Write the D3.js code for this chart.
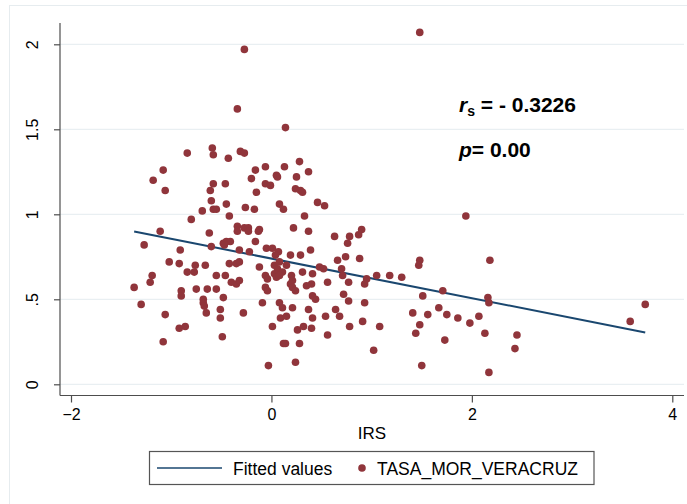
<!DOCTYPE html>
<html>
<head>
<meta charset="utf-8">
<script src="https://cdn.jsdelivr.net/npm/d3@7"></script>
<style>
  html, body { margin: 0; padding: 0; background: #ffffff; }
  svg { display: block; font-family: "Liberation Sans", Arial, sans-serif; }
</style>
</head>
<body>
<svg id="chart" width="687" height="504"></svg>
<script>
// Social-backwardness index (IRS) per municipality
const irs = [
  1.48, -0.27, -0.34, 0.14, -0.84, -0.59, -0.58, -0.43, -0.31, -0.27,
  -1.08, -0.06, 0.13, 0.28, 0.37, -0.16, -0.20, 0.05, 0.06, 0.25,
  -1.18, -0.46, -0.58, -0.61, -0.06, -0.01, -1.06, -0.15, 0.24, 0.29,
  0.31, -0.60, -0.45, 0.46, 0.53, 0.08, 0.12, -0.69, -0.58, -0.55,
  -0.26, -0.17, -0.42, -0.80, 0.33, 0.22, -0.34, -0.27, -0.23, -0.34,
  -0.23, -0.12, -0.13, -0.62, 0.37, -1.11, -0.16, -0.48, -0.45, -0.41,
  -0.47, 0.63, 0.78, 0.76, 0.87, 0.90, -1.27, -0.60, -0.91, -0.32,
  -0.22, -0.05, 0.01, 0.07, 0.04, 0.19, 0.29, 0.39, 0.74, 0.88,
  -1.02, -0.92, -0.76, -0.66, -0.42, -0.35, -0.32, -0.12, 0.03, 0.08,
  0.15, 0.06, 0.11, 0.03, 0.05, 0.08, 0.66, 0.48, 0.52, 0.70,
  1.48, 1.47, 2.18, -0.84, -0.77, -0.55, -0.46, -1.19, -1.21, -0.06,
  -0.04, 0.20, 0.21, 0.31, 0.41, 0.71, 1.05, 1.18, 1.30, 0.95,
  0.93, -0.40, -0.35, -0.32, -0.06, -0.04, 0.19, 0.21, 0.24, 0.35,
  0.40, 0.56, 0.77, -1.37, -0.90, -0.75, -0.55, -0.64, -0.90, -0.48,
  -0.68, 0.41, 0.44, 0.72, 1.51, 1.71, 2.16, 2.17, -1.30, -0.68,
  -0.67, -0.09, 0.08, 0.11, 0.21, 0.77, 0.93, -0.51, -0.65, -1.06,
  -0.28, 0.37, 0.64, 1.67, 1.41, 1.56, 1.75, -0.51, 0.09, 0.15,
  0.41, 0.54, 0.68, 1.86, 2.07, 1.98, 0.91, 0.01, 0.26, 0.32,
  0.40, 0.78, 1.08, -0.92, -0.86, 1.48, 1.44, 0.56, 2.13, 2.45,
  -0.49, 1.73, -1.08, 0.12, 0.14, 0.28, 1.02, 2.43, -0.03, 0.24,
  1.50, 2.17, 3.58, 3.73, 1.94
];

// Mortality rate (TASA_MOR_VERACRUZ), same order as irs
const tasa = [
  2.07, 1.97, 1.62, 1.51, 1.36, 1.39, 1.35, 1.33, 1.37, 1.36,
  1.26, 1.28, 1.28, 1.31, 1.25, 1.26, 1.21, 1.23, 1.22, 1.22,
  1.20, 1.18, 1.18, 1.14, 1.18, 1.17, 1.14, 1.13, 1.15, 1.14,
  1.13, 1.08, 1.06, 1.07, 1.05, 1.06, 1.03, 1.02, 1.03, 1.03,
  1.04, 1.03, 0.99, 0.97, 0.99, 0.92, 0.93, 0.92, 0.92, 0.90,
  0.90, 0.91, 0.90, 0.89, 0.90, 0.90, 0.84, 0.83, 0.84, 0.84,
  0.82, 0.87, 0.87, 0.83, 0.88, 0.91, 0.82, 0.81, 0.79, 0.79,
  0.78, 0.80, 0.80, 0.78, 0.76, 0.76, 0.76, 0.79, 0.75, 0.74,
  0.72, 0.71, 0.70, 0.70, 0.71, 0.71, 0.72, 0.69, 0.70, 0.72,
  0.70, 0.68, 0.66, 0.65, 0.63, 0.64, 0.73, 0.69, 0.68, 0.68,
  0.73, 0.70, 0.73, 0.66, 0.66, 0.64, 0.64, 0.64, 0.60, 0.64,
  0.62, 0.64, 0.61, 0.66, 0.65, 0.64, 0.64, 0.64, 0.63, 0.62,
  0.59, 0.60, 0.59, 0.61, 0.57, 0.55, 0.59, 0.57, 0.55, 0.58,
  0.59, 0.60, 0.60, 0.57, 0.55, 0.56, 0.56, 0.56, 0.52, 0.51,
  0.50, 0.52, 0.50, 0.53, 0.52, 0.55, 0.51, 0.48, 0.47, 0.48,
  0.46, 0.48, 0.48, 0.45, 0.45, 0.49, 0.48, 0.44, 0.42, 0.41,
  0.42, 0.44, 0.44, 0.45, 0.42, 0.41, 0.41, 0.39, 0.39, 0.40,
  0.39, 0.40, 0.40, 0.39, 0.40, 0.36, 0.37, 0.34, 0.32, 0.34,
  0.33, 0.34, 0.34, 0.33, 0.34, 0.35, 0.30, 0.29, 0.30, 0.29,
  0.28, 0.26, 0.25, 0.24, 0.24, 0.24, 0.20, 0.21, 0.11, 0.13,
  0.11, 0.07, 0.37, 0.47, 0.99
];

// Linear fit of tasa on irs
const fitIntercept = 0.7395;
const fitSlope = -0.1165;

const xTicks = [-2, 0, 2, 4];
const yTicks = [0, 0.5, 1, 1.5, 2];
const yTickLabels = ["0", ".5", "1", "1.5", "2"];

const legendLabels = ["Fitted values", "TASA_MOR_VERACRUZ"];
const xTitle = "IRS";
const rsText = "- 0.3226";
const pText = "0.00";

const markerColor = "#90353B";
const lineColor = "#1A476F";
const gridColor = "#E9EFF2";
const axisColor = "#4D4D4D";

const svg = d3.select("#chart");

// outer graph frame
svg.append("rect")
  .attr("x", 9.5).attr("y", 5.5)
  .attr("width", 700).attr("height", 520)
  .attr("fill", "#ffffff")
  .attr("stroke", "#E6ECEF").attr("stroke-width", 1);

const plot = { left: 60, right: 684, top: 23, bottom: 395.5 };

const x = d3.scaleLinear().domain([-2, 4]).range([71, 672.3]);
const y = d3.scaleLinear().domain([0, 2]).range([384.3, 44.3]);

// horizontal grid
svg.append("g")
  .selectAll("line")
  .data(yTicks)
  .join("line")
  .attr("x1", plot.left).attr("x2", plot.right)
  .attr("y1", d => y(d)).attr("y2", d => y(d))
  .attr("stroke", gridColor).attr("stroke-width", 1.3);

// y axis
const yAxis = d3.axisLeft(y)
  .tickValues(yTicks)
  .tickSize(6)
  .tickPadding(0)
  .tickFormat((d, i) => yTickLabels[i]);

const gy = svg.append("g")
  .attr("transform", `translate(${plot.left},0)`)
  .call(yAxis);
gy.select(".domain").remove();
gy.append("line")
  .attr("x1", 0).attr("x2", 0)
  .attr("y1", plot.top).attr("y2", plot.bottom)
  .attr("stroke", axisColor).attr("stroke-width", 1.2);
gy.selectAll(".tick line").attr("stroke", axisColor).attr("stroke-width", 1.2);
gy.selectAll(".tick text")
  .attr("fill", "#000")
  .attr("font-size", 16)
  .attr("font-family", "Liberation Sans, Arial, sans-serif")
  .attr("text-anchor", "middle")
  .attr("dy", null)
  .attr("x", null)
  .attr("transform", "translate(-28,0) rotate(-90)")
  .attr("dominant-baseline", "central");

// x axis
const xAxis = d3.axisBottom(x)
  .tickValues(xTicks)
  .tickSize(7)
  .tickPadding(6)
  .tickFormat(d3.format("d"));

const gx = svg.append("g")
  .attr("transform", `translate(0,${plot.bottom})`)
  .call(xAxis);
gx.select(".domain").remove();
gx.append("line")
  .attr("x1", plot.left).attr("x2", plot.right)
  .attr("y1", 0).attr("y2", 0)
  .attr("stroke", axisColor).attr("stroke-width", 1.2);
gx.selectAll(".tick line").attr("stroke", axisColor).attr("stroke-width", 1.2);
gx.selectAll(".tick text")
  .attr("fill", "#000")
  .attr("font-size", 16)
  .attr("font-family", "Liberation Sans, Arial, sans-serif");

// x axis title
svg.append("text")
  .attr("x", (plot.left + plot.right) / 2)
  .attr("y", 439)
  .attr("text-anchor", "middle")
  .attr("font-size", 17)
  .attr("fill", "#000")
  .text(xTitle);

// fitted line over the observed irs range
const xMin = d3.min(irs), xMax = d3.max(irs);
svg.append("line")
  .attr("x1", x(xMin)).attr("y1", y(fitIntercept + fitSlope * xMin))
  .attr("x2", x(xMax)).attr("y2", y(fitIntercept + fitSlope * xMax))
  .attr("stroke", lineColor).attr("stroke-width", 2);

// scatter
svg.append("g")
  .selectAll("circle")
  .data(d3.range(irs.length))
  .join("circle")
  .attr("cx", i => x(irs[i]))
  .attr("cy", i => y(tasa[i]))
  .attr("r", 3.8)
  .attr("fill", markerColor);

// Spearman annotation
const ann = svg.append("g")
  .attr("font-weight", "bold")
  .attr("font-size", 21)
  .attr("fill", "#000");
const t1 = ann.append("text").attr("x", 459).attr("y", 112);
t1.append("tspan").attr("font-style", "italic").text("r");
t1.append("tspan").attr("font-size", 14).attr("dy", 4).text("s");
t1.append("tspan").attr("dy", -4).text(" = " + rsText);

const t2 = ann.append("text").attr("x", 459).attr("y", 157);
t2.append("tspan").attr("font-style", "italic").text("p");
t2.append("tspan").text("= " + pText);

// legend
const lg = svg.append("g");
lg.append("rect")
  .attr("x", 149.5).attr("y", 451.5)
  .attr("width", 444.5).attr("height", 33)
  .attr("fill", "#fff")
  .attr("stroke", "#555").attr("stroke-width", 1.2);
lg.append("line")
  .attr("x1", 157).attr("x2", 222)
  .attr("y1", 468).attr("y2", 468)
  .attr("stroke", lineColor).attr("stroke-width", 1.6);
lg.append("text")
  .attr("x", 233).attr("y", 474.5)
  .attr("font-size", 17.5).attr("fill", "#000")
  .text(legendLabels[0]);
lg.append("circle")
  .attr("cx", 362).attr("cy", 468).attr("r", 3.8)
  .attr("fill", markerColor);
lg.append("text")
  .attr("x", 377).attr("y", 474.5)
  .attr("font-size", 17.5).attr("fill", "#000")
  .text(legendLabels[1]);
</script>
</body>
</html>
